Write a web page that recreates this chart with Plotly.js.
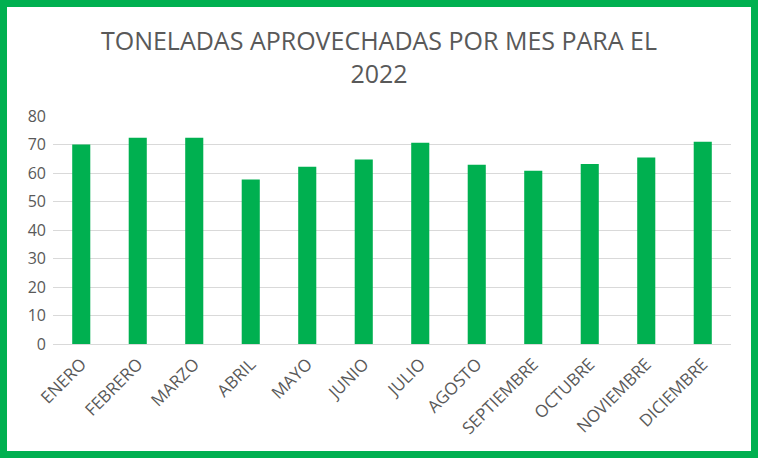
<!DOCTYPE html>
<html>
<head>
<meta charset="utf-8">
<script src="https://cdn.plot.ly/plotly-3.0.1.min.js"></script>
<style>
html,body{margin:0;padding:0;background:#fff;}
#wrap{width:758px;height:458px;box-sizing:border-box;border:7px solid #00B050;background:#fff;}
#chart{width:744px;height:444px;}
</style>
</head>
<body>
<div id="wrap"><div id="chart"></div></div>
<script>
const months = ["ENERO","FEBRERO","MARZO","ABRIL","MAYO","JUNIO","JULIO","AGOSTO","SEPTIEMBRE","OCTUBRE","NOVIEMBRE","DICIEMBRE"];
const toneladas = [70.0, 72.4, 72.4, 57.7, 62.2, 64.7, 70.6, 62.9, 60.8, 63.2, 65.4, 71.0];
const yTicks = [0,10,20,30,40,50,60,70,80];
const titleText = "TONELADAS APROVECHADAS POR MES PARA EL<br>2022";

const font = "'Open Sans', sans-serif";
Plotly.newPlot("chart", [{
  type: "bar",
  x: months,
  y: toneladas,
  marker: {color: "#00B050"},
  hoverinfo: "x+y"
}], {
  width: 744, height: 444,
  margin: {l: 46, r: 20, t: 109, b: 107},
  paper_bgcolor: "#fff", plot_bgcolor: "#fff",
  bargap: 0.68,
  showlegend: false,
  title: {text: titleText, x: 0.5, xanchor: "center", y: 1 - 43/444, yanchor: "middle",
          font: {family: font, size: 25, color: "#595959"}},
  xaxis: {tickangle: -45, tickfont: {family: font, size: 17, color: "#595959"},
          showgrid: false, zeroline: false, showline: false, ticks: "", ticklabelstandoff: 6},
  yaxis: {range: [0, 80], tickvals: yTicks, tickfont: {family: font, size: 16, color: "#595959"},
          gridcolor: "#D9D9D9", gridwidth: 1, zeroline: true, zerolinecolor: "#D9D9D9",
          showline: false, ticks: "", ticklen: 0, ticklabelstandoff: 6}
}, {displayModeBar: false, staticPlot: true});
</script>
</body>
</html>
